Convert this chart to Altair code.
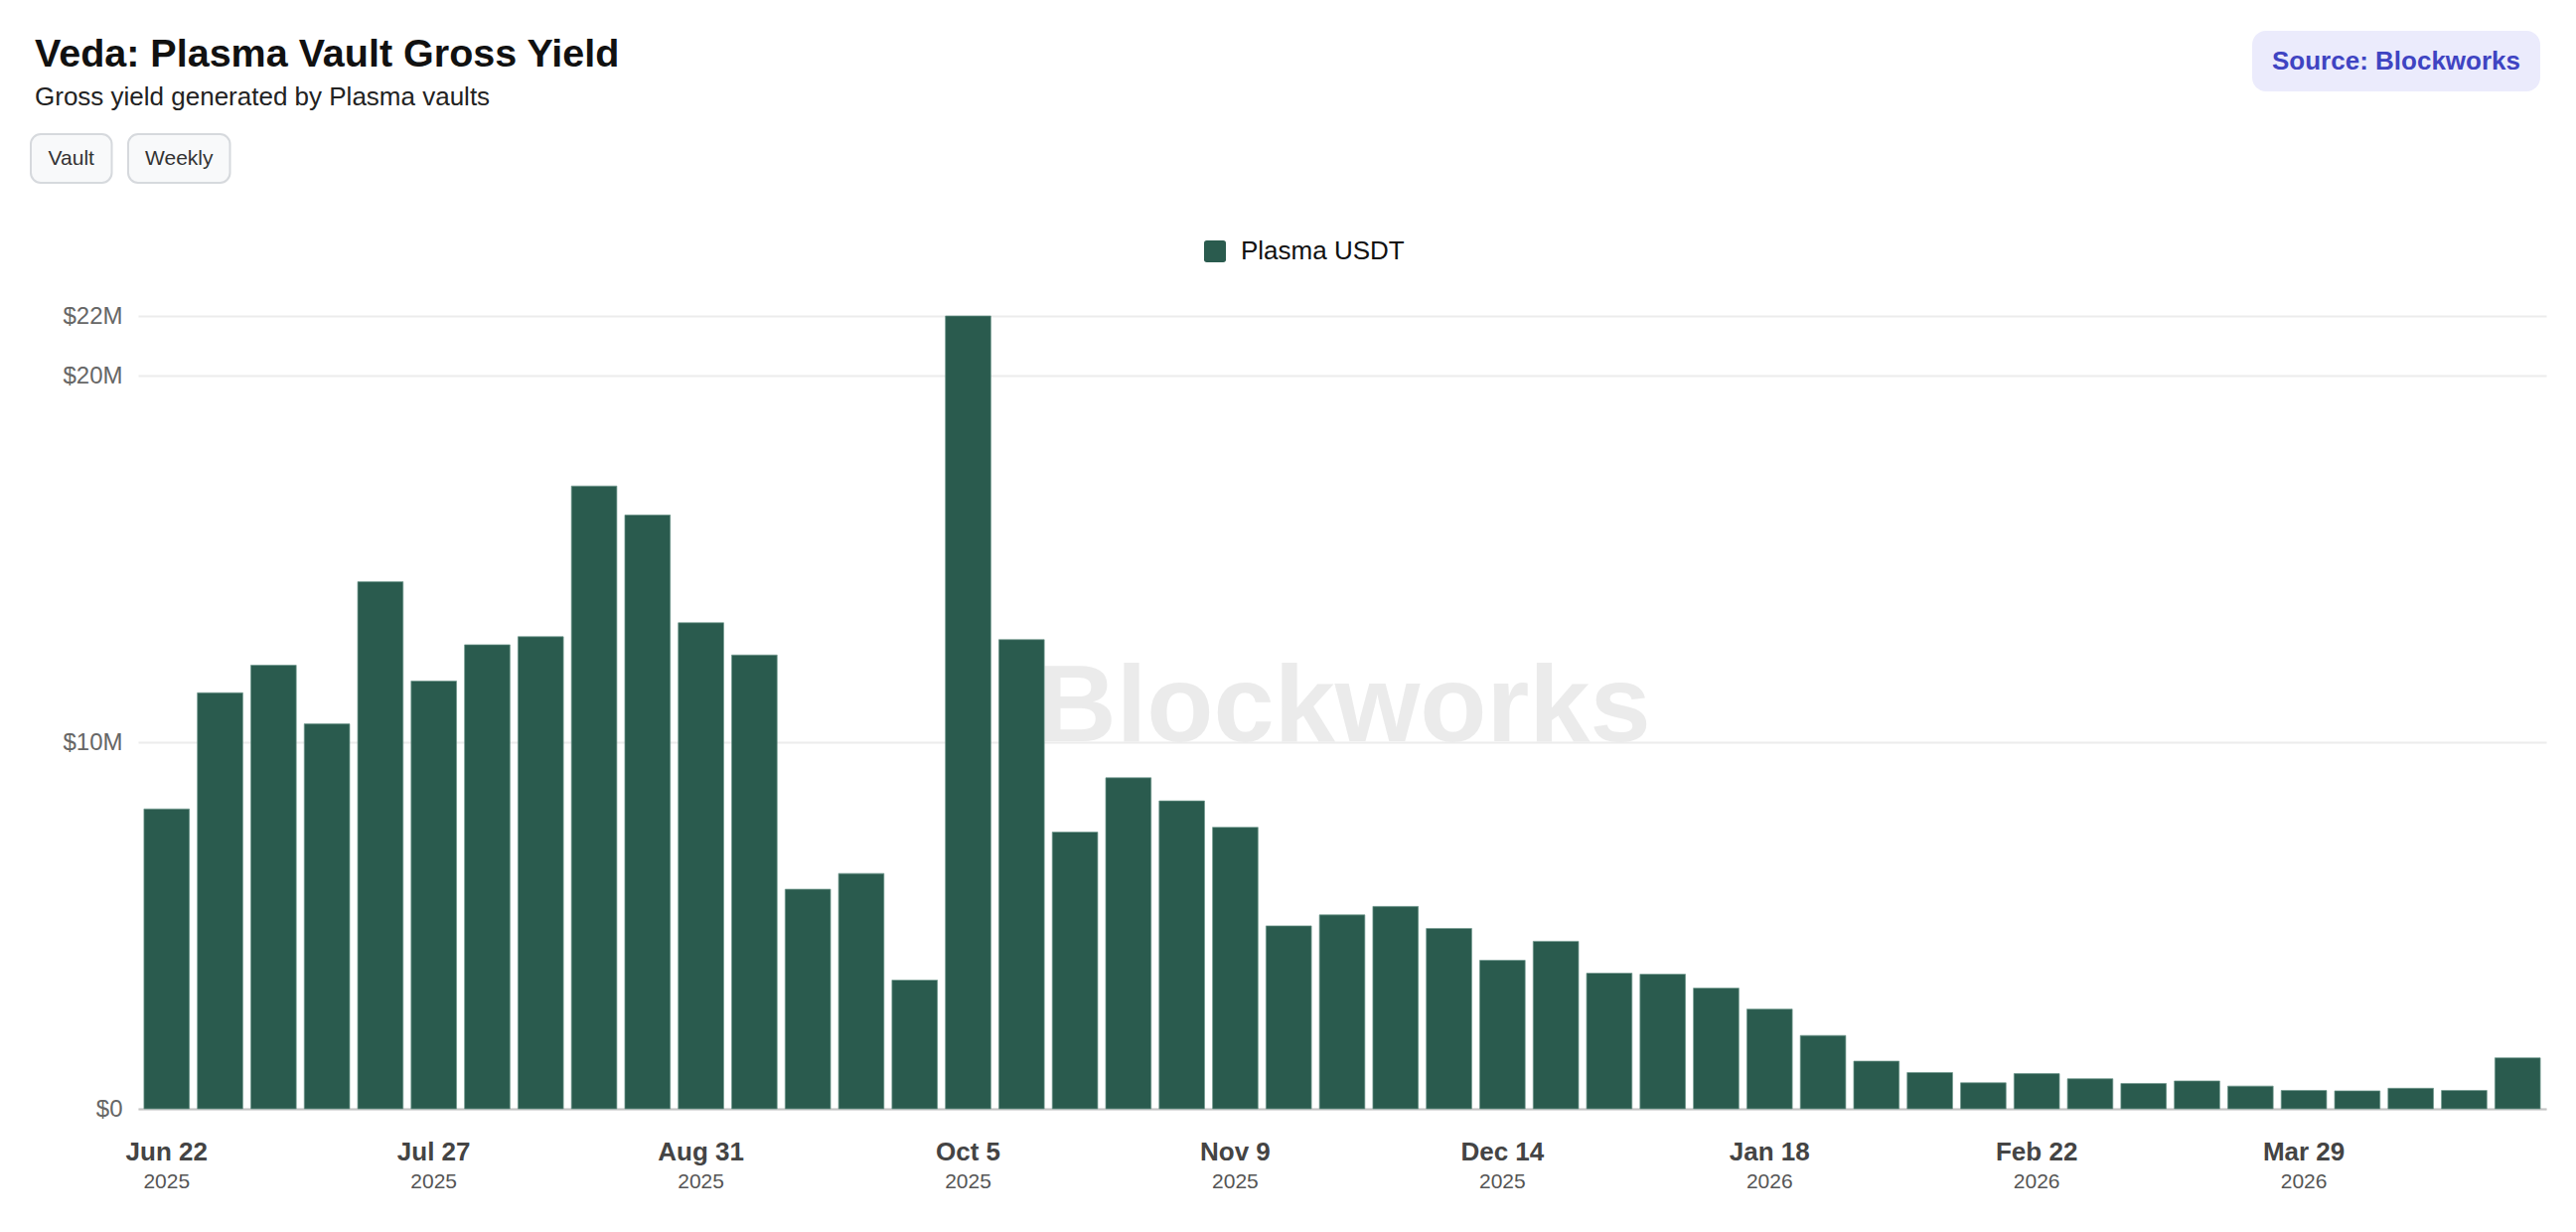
import json
import altair as alt
import pandas as pd

# ---------------- data ----------------
weeks = [
    "2025-06-22", "2025-06-29", "2025-07-06", "2025-07-13", "2025-07-20",
    "2025-07-27", "2025-08-03", "2025-08-10", "2025-08-17", "2025-08-24",
    "2025-08-31", "2025-09-07", "2025-09-14", "2025-09-21", "2025-09-28",
    "2025-10-05", "2025-10-12", "2025-10-19", "2025-10-26", "2025-11-02",
    "2025-11-09", "2025-11-16", "2025-11-23", "2025-11-30", "2025-12-07",
    "2025-12-14", "2025-12-21", "2025-12-28", "2026-01-04", "2026-01-11",
    "2026-01-18", "2026-01-25", "2026-02-01", "2026-02-08", "2026-02-15",
    "2026-02-22", "2026-03-01", "2026-03-08", "2026-03-15", "2026-03-22",
    "2026-03-29", "2026-04-05", "2026-04-12", "2026-04-19", "2026-04-26",
]
yield_musd = [
    8.18, 11.35, 12.10, 10.50, 14.38,
    11.67, 12.66, 12.88, 16.99, 16.20,
    13.26, 12.38, 5.99, 6.42, 3.51,
    21.63, 12.80, 7.55, 9.03, 8.40,
    7.68, 4.99, 5.29, 5.52, 4.92,
    4.05, 4.57, 3.70, 3.67, 3.29,
    2.72, 2.00, 1.30, 0.99, 0.71,
    0.96, 0.82, 0.69, 0.76, 0.62,
    0.50, 0.49, 0.56, 0.50, 1.39,
]
series_name = "Plasma USDT"

tick_weeks = ["2025-06-22", "2025-07-27", "2025-08-31", "2025-10-05", "2025-11-09",
              "2025-12-14", "2026-01-18", "2026-02-22", "2026-03-29"]
tick_labels = ["Jun 22", "Jul 27", "Aug 31", "Oct 5", "Nov 9",
               "Dec 14", "Jan 18", "Feb 22", "Mar 29"]
tick_years = ["2025", "2025", "2025", "2025", "2025",
              "2025", "2026", "2026", "2026"]

y_max = max(yield_musd) * 1e6
y_ticks = [0, 10e6, 20e6, y_max]

title_text = "Veda: Plasma Vault Gross Yield"
subtitle_text = "Gross yield generated by Plasma vaults"
button_labels = ["Vault", "Weekly"]
source_text = "Source: Blockworks"
watermark_text = "Blockworks"

df = pd.DataFrame({
    "week": weeks,
    "value": [v * 1e6 for v in yield_musd],
    "series": [series_name] * len(weeks),
})

# ---------------- layout ----------------
W, H = 2424, 798
FONT = "Liberation Sans"
BAR = "#2a5b4e"

x_scale = alt.Scale(paddingInner=0.15, paddingOuter=0.11)
bold_expr = f"{json.dumps(tick_labels)}[indexof({json.dumps(tick_weeks)}, datum.value)]"
year_expr = f"{json.dumps(tick_years)}[indexof({json.dumps(tick_weeks)}, datum.value)]"
y_expr = "datum.value == 0 ? '$0' : '$' + format(datum.value / 1e6, '.0f') + 'M'"

rounded_square = ("M -0.75 -1 L 0.75 -1 Q 1 -1 1 -0.75 L 1 0.75 Q 1 1 0.75 1 "
                  "L -0.75 1 Q -1 1 -1 0.75 L -1 -0.75 Q -1 -1 -0.75 -1 Z")

watermark = alt.Chart(pd.DataFrame({"t": [watermark_text]})).mark_text(
    font=FONT, fontSize=110, fontWeight="bold", color="#ebebeb",
    align="center", baseline="middle"
).encode(text="t:N", x=alt.value(W / 2 + 2), y=alt.value(H / 2 - 4))

bars = alt.Chart(df).mark_bar(
    color=BAR, stroke="#6e978b", strokeWidth=1, strokeOpacity=0.7
).encode(
    x=alt.X("week:O", sort=None, scale=x_scale, title=None,
            axis=alt.Axis(orient="bottom", values=tick_weeks, labelExpr=bold_expr,
                          labelAngle=0, labelFont=FONT, labelFontSize=26,
                          labelFontWeight="bold", labelColor="#444444",
                          labelPadding=30, ticks=False, tickSize=0,
                          domain=True, domainColor="#c4c4c4", domainWidth=2,
                          grid=False, labelOverlap=False, labelBound=False)),
    y=alt.Y("value:Q", title=None,
            scale=alt.Scale(domain=[0, y_max], nice=False, zero=True),
            axis=alt.Axis(values=y_ticks, labelExpr=y_expr, labelFont=FONT,
                          labelFontSize=24, labelColor="#666666", labelPadding=16,
                          ticks=False, tickSize=0, domain=False, grid=True,
                          gridColor="#ececec", gridWidth=2, labelOverlap=False)),
    color=alt.Color("series:N", scale=alt.Scale(range=[BAR]),
                    legend=alt.Legend(orient="none", legendX=1071, legendY=-78,
                                      title=None, symbolType=rounded_square,
                                      symbolSize=484, symbolStrokeWidth=0,
                                      labelFont=FONT, labelFontSize=26,
                                      labelColor="#111111", labelOffset=13,
                                      labelLimit=600, padding=0)),
)

years = alt.Chart(df).mark_tick(opacity=0).encode(
    x=alt.X("week:O", sort=None, title=None,
            axis=alt.Axis(orient="bottom", values=tick_weeks, labelExpr=year_expr,
                          labelAngle=0, labelFont=FONT, labelFontSize=21,
                          labelColor="#555555", labelPadding=62, ticks=False,
                          tickSize=0, domain=False, grid=False,
                          labelOverlap=False, labelBound=False)),
    y=alt.value(H),
)


def button(label, x0, x1):
    src = alt.Chart(pd.DataFrame({"label": [label]}))
    box = src.mark_rect(fill="#f8f9fa", stroke="#d6d9dd", strokeWidth=2,
                        cornerRadius=10).encode(
        x=alt.value(x0), x2=alt.value(x1), y=alt.value(-183), y2=alt.value(-134))
    txt = src.mark_text(font=FONT, fontSize=21, color="#333333",
                        align="center", baseline="middle").encode(
        text="label:N", x=alt.value((x0 + x1) / 2), y=alt.value(-158.5))
    return [box, txt]


btn_layers = button(button_labels[0], -108, -26.5) + button(button_labels[1], -10, 92.5)

src_df = pd.DataFrame({"label": [source_text]})
badge = alt.Chart(src_df).mark_rect(fill="#ebebfc", cornerRadius=14).encode(
    x=alt.value(2128), x2=alt.value(2418), y=alt.value(-287), y2=alt.value(-226))
badge_txt = alt.Chart(src_df).mark_text(
    font=FONT, fontSize=26, fontWeight="bold", color="#3f44c2",
    align="center", baseline="middle"
).encode(text="label:N", x=alt.value(2273), y=alt.value(-256.5))

chart = alt.layer(
    watermark, bars, years, *btn_layers, badge, badge_txt
).resolve_axis(x="independent").properties(
    width=W, height=H,
    background="white",
    title=alt.TitleParams(text=title_text, subtitle=subtitle_text, anchor="start",
                          frame="group", dx=-104, offset=-81, font=FONT,
                          fontSize=39.5, fontWeight="bold", color="#111111",
                          subtitleFont=FONT, subtitleFontSize=26,
                          subtitleColor="#222222", subtitlePadding=10),
    padding={"left": 131, "top": 310, "right": 18, "bottom": 100},
    autosize=alt.AutoSizeParams(type="none"),
).configure_view(stroke=None, strokeWidth=0)

chart.save("out.html", embed_options={"renderer": "svg", "actions": False})
